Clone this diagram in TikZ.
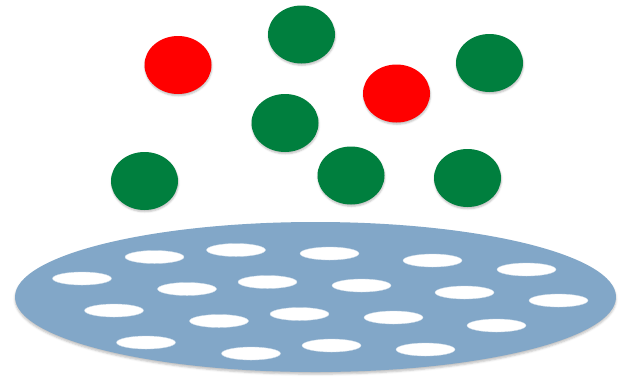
\documentclass[tikz,border=0pt]{standalone}
\usetikzlibrary{shapes.geometric, shadows.blur}
\definecolor{ballgreen}{RGB}{0,127,62}
\definecolor{ballred}{RGB}{255,0,0}
\definecolor{plateblue}{RGB}{130,167,200}

\begin{document}
\begin{tikzpicture}[x=0.5mm, y=-0.5mm]
    \tikzset{
        ball/.style={ellipse, inner sep=0pt, minimum width=33.5mm, minimum height=29mm,
            blur shadow={shadow xshift=0.6pt, shadow yshift=-2.5pt, shadow opacity=25, shadow blur radius=2.5pt}},
        hole/.style={ellipse, fill=white, draw=white!60!plateblue, line width=0.5pt,
            inner sep=0pt, minimum width=29.5mm, minimum height=6.5mm},
        plate/.style={ellipse, fill=plateblue, inner sep=0pt, minimum width=300.5mm, minimum height=75mm,
            blur shadow={shadow xshift=0pt, shadow yshift=-3pt, shadow opacity=25, shadow blur radius=3pt}}
    }
    \useasboundingbox (0,0) rectangle (619,377);

    % the plate with its holes
    \node[plate] (pl) at (315.5,297) {};
    \foreach \name/\x/\y in {h1/154.5/257, h2/236/250, h3/329.5/253.5, h4/432.5/260.5, h5/526.5/269.5,
        h6/82/278.5, h7/187/289, h8/267.5/282, h9/361.5/285.5, h10/464.5/292.5, h11/558.5/300.5,
        h12/114/310.5, h13/219/321, h14/299.5/314, h15/393.5/317.5, h16/496.5/325.5,
        h17/146/342.5, h18/251/353.5, h19/331.5/345.5, h20/425.5/349.5} {
        \node[hole] (\name) at (\x,\y) {};
    }

    % the balls above it
    \foreach \name/\x/\y/\col in {r1/178/65/ballred, g1/301.5/34.5/ballgreen, g2/285/123/ballgreen,
        g3/144.5/181/ballgreen, r2/396.5/93.5/ballred, g4/489.5/63/ballgreen,
        g5/351/175.5/ballgreen, g6/467.5/178/ballgreen} {
        \node[ball, fill=\col] (\name) at (\x,\y) {};
    }
\end{tikzpicture}
\end{document}
